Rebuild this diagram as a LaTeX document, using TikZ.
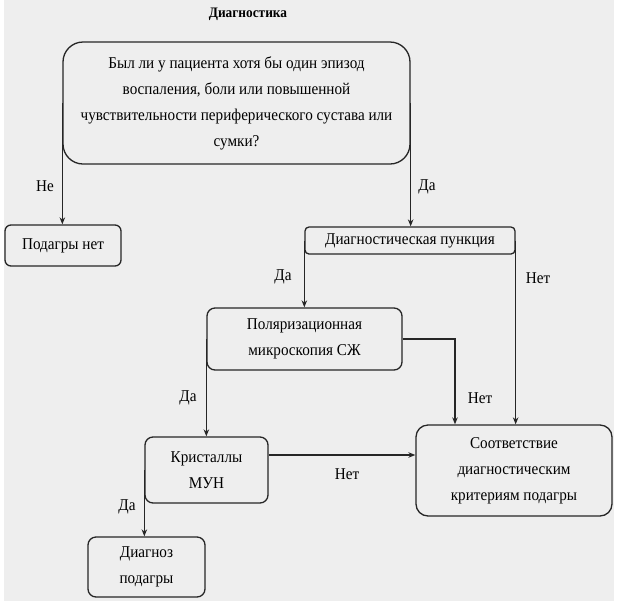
\documentclass[tikz,border=0pt]{standalone}
\usepackage{fontspec}
\setmainfont{Liberation Serif}[FakeStretch=0.92]
\usetikzlibrary{arrows.meta}
\definecolor{bgc}{HTML}{EEEEEE}
\definecolor{ln}{HTML}{262626}
\begin{document}
\begin{tikzpicture}[x=1pt,y=-1pt,
  box/.style={draw=ln,line width=1.3pt,align=center,inner sep=0pt,
    font=\fontsize{16.5}{26}\selectfont},
  arr/.style={draw=ln,line width=1.3pt,-{Stealth[length=7pt,width=5.5pt]}},
  lbl/.style={font=\fontsize{16.5}{18}\selectfont,inner sep=0pt}]
\useasboundingbox (0,0) rectangle (624,606);
\fill[white] (0,0) rectangle (624,606);
\fill[bgc] (4,0) rectangle (614,601);
\node[font=\bfseries\fontsize{14.5}{16}\selectfont] (title) at (248,14) {Диагностика};
\node[box,rounded corners=20pt,minimum width=347pt,minimum height=122pt] (q) at (236.5,103)
  {Был ли у пациента хотя бы один эпизод\\воспаления, боли или повышенной\\чувствительности периферического сустава или\\сумки?};
\node[box,rounded corners=6pt,minimum width=116pt,minimum height=41pt] (nopod) at (63,245.5) {Подагры нет};
\node[box,rounded corners=4pt,minimum width=210pt,minimum height=27pt] (punct) at (410,240.5) {Диагностическая пункция};
\node[box,rounded corners=8pt,minimum width=195pt,minimum height=62pt] (polar) at (304.5,339) {Поляризационная\\микроскопия СЖ};
\node[box,rounded corners=8pt,minimum width=123pt,minimum height=66pt] (kryst) at (206.5,470) {Кристаллы\\МУН};
\node[box,rounded corners=12pt,minimum width=196pt,minimum height=91pt] (sootv) at (514,470.5) {Соответствие\\диагностическим\\критериям подагры};
\node[box,rounded corners=8pt,minimum width=117pt,minimum height=60pt] (diag) at (146.5,567) {Диагноз\\подагры};
\draw[arr] (q.west) -- (q.west |- nopod.north);
\draw[arr] (q.east) -- (q.east |- punct.north);
\draw[arr] (punct.west) -- (punct.west |- polar.north);
\draw[arr] (punct.east) -- (punct.east |- sootv.north);
\draw[arr] (polar.east) -| ([xshift=-59pt]sootv.north);
\draw[arr] (polar.west) -- (polar.west |- kryst.north);
\draw[arr] ([yshift=15pt]kryst.east) -- ([yshift=15pt]kryst.east -| sootv.west);
\draw[arr] (kryst.west) -- (kryst.west |- diag.north);
\node[lbl] (l1) at (45,186) {Не};
\node[lbl] (l2) at (427,187) {Да};
\node[lbl] (l3) at (283,277) {Да};
\node[lbl] (l4) at (538,278) {Нет};
\node[lbl] (l5) at (480,398) {Нет};
\node[lbl] (l6) at (188,398) {Да};
\node[lbl] (l7) at (347,474) {Нет};
\node[lbl] (l8) at (127,507) {Да};
\end{tikzpicture}
\end{document}
